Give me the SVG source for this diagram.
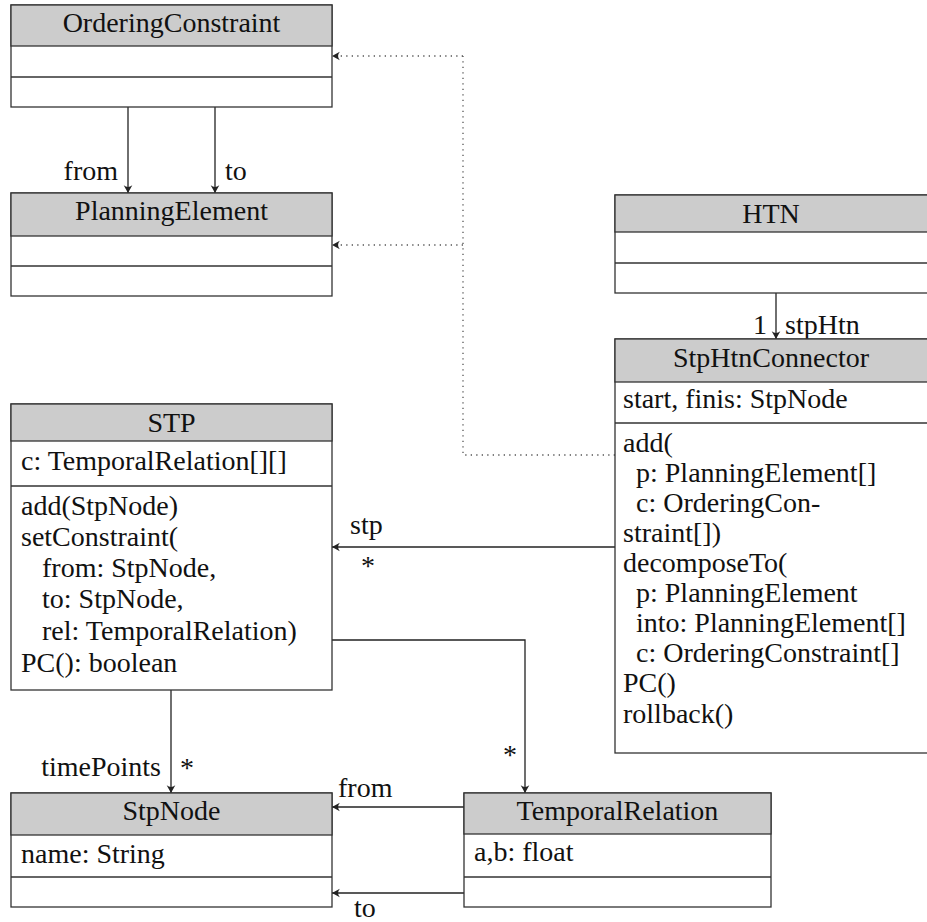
<svg xmlns="http://www.w3.org/2000/svg" width="927" height="922" viewBox="0 0 927 922">
  <style>
    .title { text-anchor: middle; }
    .end { text-anchor: end; }
    .box { fill: #ffffff; stroke: #333333; stroke-width: 1.3; }
    .head { fill: #cccccc; stroke: #333333; stroke-width: 1.3; }
    .sep { stroke: #333333; stroke-width: 1.3; }
    .edge { fill: none; stroke: #222222; stroke-width: 1.3; marker-end: url(#tip); }
    .dep { fill: none; stroke: #555555; stroke-width: 1.3; stroke-dasharray: 1.3 4.2; }
    .dep-tip { fill: none; stroke: #555555; stroke-width: 1.3; stroke-dasharray: 1.3 4.2; marker-end: url(#tip); }
  </style>
  <defs>
    <marker id="tip" markerUnits="userSpaceOnUse" markerWidth="12" markerHeight="12" viewBox="-7 -5 8 10" refX="0" refY="0" orient="auto">
      <path d="M0,0 L-6.5,-3.6 Q-3.6,0 -6.5,3.6 Z" fill="#222222"/>
    </marker>
  </defs>

  <rect width="927" height="922" fill="#ffffff"/>

  <g font-family="Times New Roman, Times, Tinos, Noto Serif, Liberation Serif, DejaVu Serif, serif" font-size="28" fill="#111111">
  <!-- connectors -->
  <g id="connectors">
    <line class="edge" x1="128" y1="107" x2="128" y2="193"/>
    <line class="edge" x1="215" y1="107" x2="215" y2="193"/>
    <polyline class="dep" points="615,455 463,455 463,56"/>
    <line class="dep-tip" x1="463" y1="56" x2="332" y2="56"/>
    <line class="dep-tip" x1="463" y1="245" x2="332" y2="245"/>
    <line class="edge" x1="776" y1="293" x2="776" y2="339"/>
    <line class="edge" x1="615" y1="547" x2="332" y2="547"/>
    <polyline class="edge" points="332,640 525,640 525,793"/>
    <line class="edge" x1="171" y1="690" x2="171" y2="793"/>
    <line class="edge" x1="464" y1="807" x2="332" y2="807"/>
    <line class="edge" x1="464" y1="893" x2="332" y2="893"/>

    <text class="end" x="118" y="180">from</text>
    <text x="225" y="180">to</text>
    <text class="end" x="767" y="334">1</text>
    <text x="785" y="334">stpHtn</text>
    <text x="350" y="534">stp</text>
    <text class="title" x="368" y="575">*</text>
    <text class="end" x="161" y="776">timePoints</text>
    <text class="title" x="187" y="777">*</text>
    <text class="title" x="510" y="764">*</text>
    <text x="338" y="797">from</text>
    <text x="354" y="917">to</text>
  </g>

  <!-- OrderingConstraint -->
  <g id="OrderingConstraint">
    <rect class="box" x="11" y="5" width="321" height="102"/>
    <rect class="head" x="11" y="5" width="321" height="41"/>
    <line class="sep" x1="11" y1="77" x2="332" y2="77"/>
    <text class="title" x="171.5" y="32">OrderingConstraint</text>
  </g>

  <!-- PlanningElement -->
  <g id="PlanningElement">
    <rect class="box" x="11" y="193" width="321" height="103"/>
    <rect class="head" x="11" y="193" width="321" height="43"/>
    <line class="sep" x1="11" y1="266" x2="332" y2="266"/>
    <text class="title" x="171.5" y="220">PlanningElement</text>
  </g>

  <!-- HTN -->
  <g id="HTN">
    <rect class="box" x="615" y="195" width="314" height="98"/>
    <rect class="head" x="615" y="195" width="314" height="37"/>
    <line class="sep" x1="615" y1="263" x2="929" y2="263"/>
    <text class="title" x="771" y="223">HTN</text>
  </g>

  <!-- StpHtnConnector -->
  <g id="StpHtnConnector">
    <rect class="box" x="615" y="339" width="314" height="414"/>
    <rect class="head" x="615" y="339" width="314" height="43"/>
    <line class="sep" x1="615" y1="423" x2="929" y2="423"/>
    <text class="title" x="771" y="367">StpHtnConnector</text>
    <text x="623" y="408">start, finis:  StpNode</text>
    <text x="623" y="452">add(</text>
    <text x="636" y="482">p:  PlanningElement[]</text>
    <text x="636" y="512">c:  OrderingCon-</text>
    <text x="623" y="542">straint[])</text>
    <text x="623" y="572">decomposeTo(</text>
    <text x="636" y="602">p:  PlanningElement</text>
    <text x="636" y="632">into:  PlanningElement[]</text>
    <text x="636" y="662">c:  OrderingConstraint[]</text>
    <text x="623" y="692">PC()</text>
    <text x="623" y="723">rollback()</text>
  </g>

  <!-- STP -->
  <g id="STP">
    <rect class="box" x="11" y="404" width="321" height="286"/>
    <rect class="head" x="11" y="404" width="321" height="37"/>
    <line class="sep" x1="11" y1="486" x2="332" y2="486"/>
    <text class="title" x="171.5" y="432">STP</text>
    <text x="21" y="470">c:  TemporalRelation[][]</text>
    <text x="21" y="515">add(StpNode)</text>
    <text x="21" y="546">setConstraint(</text>
    <text x="42" y="577">from:  StpNode,</text>
    <text x="42" y="608">to:  StpNode,</text>
    <text x="42" y="640">rel:  TemporalRelation)</text>
    <text x="21" y="672">PC():  boolean</text>
  </g>

  <!-- StpNode -->
  <g id="StpNode">
    <rect class="box" x="11" y="793" width="321" height="114"/>
    <rect class="head" x="11" y="793" width="321" height="42"/>
    <line class="sep" x1="11" y1="877" x2="332" y2="877"/>
    <text class="title" x="171.5" y="820">StpNode</text>
    <text x="21" y="863">name:  String</text>
  </g>

  <!-- TemporalRelation -->
  <g id="TemporalRelation">
    <rect class="box" x="464" y="793" width="307" height="114"/>
    <rect class="head" x="464" y="793" width="307" height="41"/>
    <line class="sep" x1="464" y1="877" x2="771" y2="877"/>
    <text class="title" x="617.5" y="820">TemporalRelation</text>
    <text x="474" y="861">a,b:  float</text>
  </g>
  </g>
</svg>
